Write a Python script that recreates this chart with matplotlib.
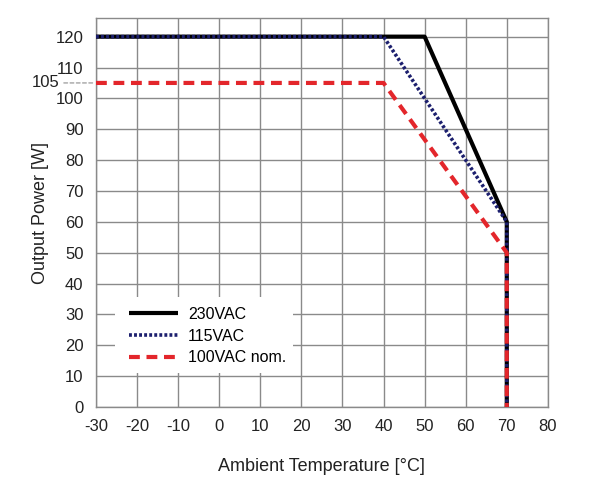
import matplotlib
matplotlib.use("Agg")
import matplotlib.pyplot as plt
from matplotlib.patches import Rectangle

plt.rcParams['font.family'] = ['Liberation Sans', 'DejaVu Sans']
plt.rcParams['axes.unicode_minus'] = False

x_230 = [-30, 50, 70, 70]
y_230 = [120, 120, 60, 0]
x_115 = [-30, 40, 70, 70]
y_115 = [120, 120, 60, 0]
x_100 = [-30, 40, 70, 70]
y_100 = [105, 105, 50, 0]
labels = ['230VAC', '115VAC', '100VAC nom.']
xticks = list(range(-30, 81, 10))
yticks = list(range(0, 121, 10))
extra_y = 105

fig = plt.figure(figsize=(5.91, 4.90), dpi=100)
ax = fig.add_axes([0.1624, 0.1694, 0.927 - 0.1624, 0.963 - 0.1694])

ax.plot(x_230, y_230, color='black', lw=3.0, label=labels[0], zorder=3, solid_capstyle='butt')
ax.plot(x_115, y_115, color='#1c1f6e', lw=2.6, ls=(0, (0.8, 0.6)), label=labels[1], zorder=4)
ax.plot(x_100, y_100, color='#e3262b', lw=3.0, ls=(0, (2.6, 1.6)), label=labels[2], zorder=5)

ax.set_xlim(-30, 80)
ax.set_ylim(0, 126)
ax.set_xticks(xticks)
ax.set_yticks(yticks)
ax.tick_params(length=0, labelsize=12, pad=9, colors='#222222')
ax.grid(True, color='#8a8a8a', lw=1.0)
ax.set_axisbelow(True)
for s in ax.spines.values():
    s.set_color('#8a8a8a')
    s.set_linewidth(1.0)

ax.set_xlabel('Ambient Temperature [°C]', fontsize=13, labelpad=17, color='#222222')
ax.set_ylabel('Output Power [W]', fontsize=13, labelpad=5, color='#222222')

# extra 105 marker
ax.annotate('', xy=(-30, extra_y), xycoords='data', xytext=(-38.5, extra_y),
            textcoords='data', arrowprops=dict(arrowstyle='-', color='#999999', lw=0.9, ls=(0, (3, 2))),
            annotation_clip=False)
ax.text(-38.8, extra_y, str(extra_y), ha='right', va='center', fontsize=12, color='#222222', clip_on=False)

# white legend background
ax.add_patch(Rectangle((0.042, 0.087), 0.395, 0.196, transform=ax.transAxes,
                       facecolor='white', edgecolor='none', zorder=1.5))

leg = ax.legend(loc='upper left', bbox_to_anchor=(0.073, 0.257), frameon=False, fontsize=11.5,
                handlelength=3.05, borderpad=0, labelspacing=0.42, handletextpad=0.65, borderaxespad=0)
leg.set_zorder(6)

fig.savefig('out.png', dpi=100)
